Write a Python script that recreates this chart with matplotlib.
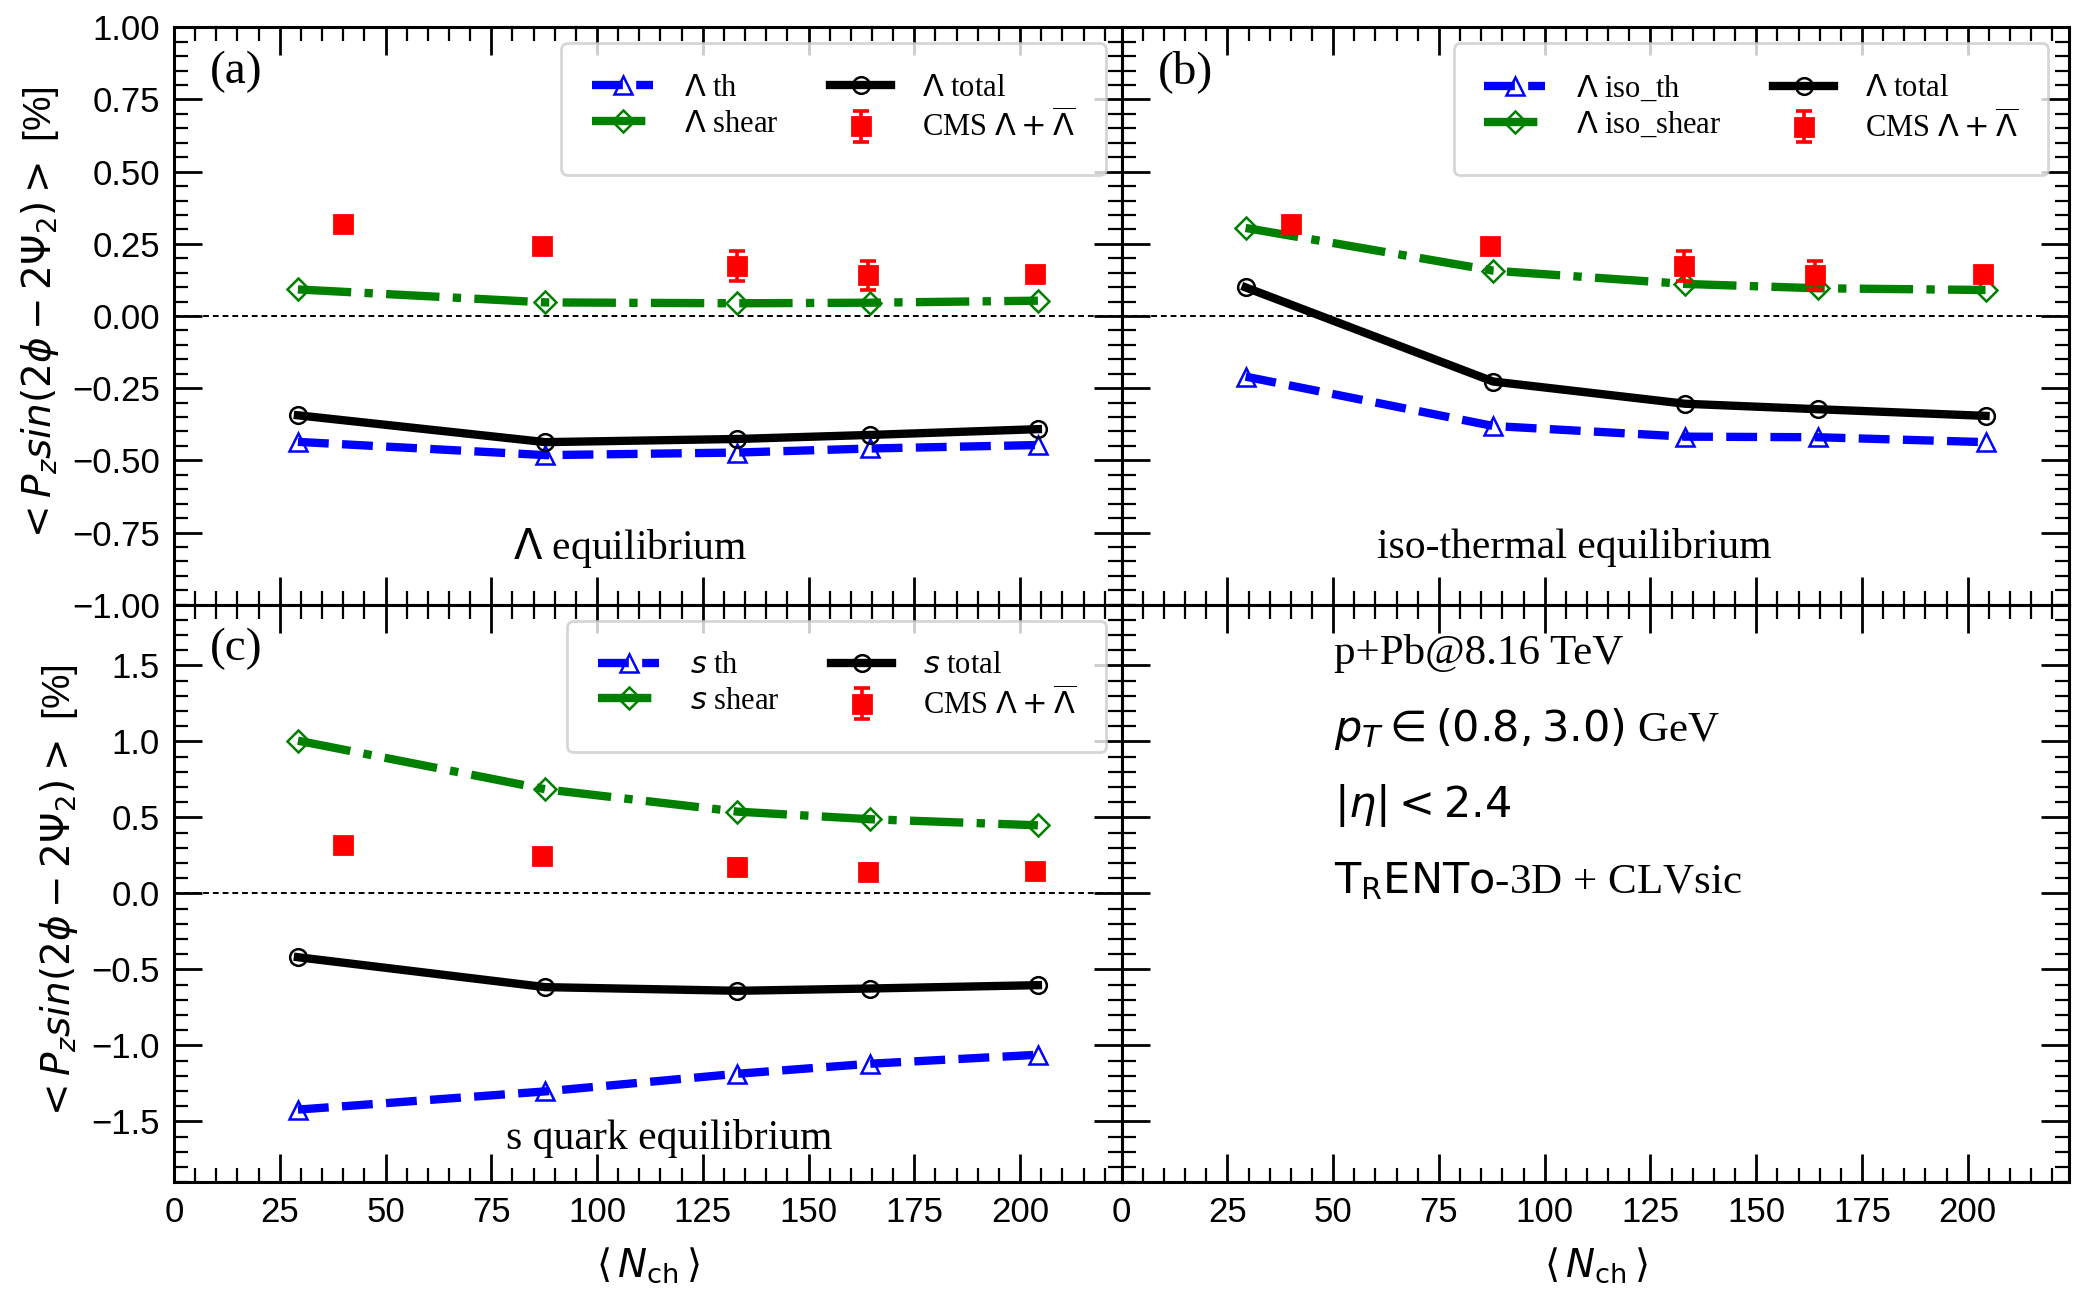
import numpy as np
import matplotlib.pyplot as plt
from matplotlib.ticker import MultipleLocator, AutoMinorLocator

plt.rcParams['font.family'] = ['Liberation Serif', 'DejaVu Serif']
plt.rcParams['mathtext.fontset'] = 'dejavusans'

# <N_ch> of the model points and of the CMS points
nch = [29.3, 87.8, 133.2, 164.6, 204.2]
cms_nch = [40.0, 87.0, 133.0, 164.0, 203.5]
cms_val = [0.318, 0.243, 0.173, 0.141, 0.145]
cms_err = [0.02, 0.015, 0.052, 0.051, 0.02]

# (a) Lambda equilibrium
lam_th = [-0.436, -0.482, -0.473, -0.459, -0.447]
lam_shear = [0.092, 0.047, 0.044, 0.046, 0.053]
lam_total = [-0.344, -0.437, -0.426, -0.412, -0.392]

# (b) iso-thermal equilibrium
iso_th = [-0.210, -0.381, -0.418, -0.420, -0.437]
iso_shear = [0.305, 0.157, 0.111, 0.096, 0.090]
iso_total = [0.099, -0.227, -0.304, -0.323, -0.346]

# (c) s quark equilibrium
s_th = [-1.423, -1.303, -1.187, -1.121, -1.062]
s_shear = [1.005, 0.685, 0.538, 0.488, 0.448]
s_total = [-0.420, -0.617, -0.641, -0.626, -0.604]

panels = [
    ('(a)', r'$\Lambda$ equilibrium',
     [r'$\Lambda$ th', r'$\Lambda$ shear', r'$\Lambda$ total'],
     lam_th, lam_shear, lam_total),
    ('(b)', 'iso-thermal equilibrium',
     [r'$\Lambda$ iso_th', r'$\Lambda$ iso_shear', r'$\Lambda$ total'],
     iso_th, iso_shear, iso_total),
    ('(c)', 's quark equilibrium',
     [r'$s$ th', r'$s$ shear', r'$s$ total'],
     s_th, s_shear, s_total),
]

fig, axs = plt.subplots(2, 2, figsize=(10.43, 6.495), dpi=200,
                        sharex=True)
fig.subplots_adjust(left=0.0834, right=0.992, top=0.979, bottom=0.090,
                    wspace=0, hspace=0)
ax_a, ax_b = axs[0]
ax_c, ax_d = axs[1]

sans = ['Liberation Sans', 'DejaVu Sans']
text_pos = [(0.481, 0.099), (0.478, 0.099), (0.523, 0.075)]
leg_anchor = [(0.983, 0.972), (0.978, 0.972), (0.984, 0.972)]

for ax, (tag, title, labels, th, shear, total), tp, la in zip(
        [ax_a, ax_b, ax_c], panels, text_pos, leg_anchor):
    ax.axhline(0, color='black', lw=0.7, ls=(0, (3, 2)), zorder=1)
    ax.plot(nch, th, color='blue', ls='--', lw=3, marker='^', ms=6.5,
            mfc='none', mec='blue', mew=0.9, label=labels[0])
    ax.plot(nch, shear, color='green', ls='-.', lw=3, marker='D', ms=5.5,
            mfc='none', mec='green', mew=0.9, label=labels[1])
    ax.plot(nch, total, color='black', ls='-', lw=3, marker='o', ms=6,
            mfc='none', mec='black', mew=0.9, label=labels[2])
    ax.errorbar(cms_nch, cms_val, yerr=cms_err, fmt='s', color='red',
                ms=6.5, capsize=3, elinewidth=1.3, capthick=1.3, zorder=5,
                label=r'CMS $\Lambda+\overline{\Lambda}$')
    ax.legend(ncol=2, loc='upper right', bbox_to_anchor=la,
              borderaxespad=0, fontsize=11, handlelength=2.0,
              handletextpad=1.0, columnspacing=1.7, borderpad=1.0,
              labelspacing=0.22)
    ax.text(0.038, 0.923, tag, transform=ax.transAxes, fontsize=17,
            va='center', ha='left')
    ax.text(tp[0], tp[1], title, transform=ax.transAxes, fontsize=15,
            va='center', ha='center')

# (d) info panel
info = ['p+Pb@8.16 TeV', r'$p_T \in (0.8, 3.0)$ GeV', r'$|\eta| < 2.4$',
        r'$\mathrm{T_RENTo}$-3D + CLVsic']
for i, s in enumerate(info):
    ax_d.text(0.224, 0.915 - 0.131 * i, s, transform=ax_d.transAxes,
              fontsize=15.5, va='center', ha='left')

ax_a.set_ylim(-1.0, 1.0)
ax_b.set_ylim(-1.0, 1.0)
ax_c.set_ylim(-1.9, 1.9)
ax_d.set_ylim(-1.9, 1.9)
ax_a.set_xlim(0, 224)

for ax in [ax_a, ax_b]:
    ax.yaxis.set_major_locator(MultipleLocator(0.25))
for ax in [ax_c, ax_d]:
    ax.yaxis.set_major_locator(MultipleLocator(0.5))

for ax in axs.flat:
    ax.xaxis.set_major_locator(MultipleLocator(25))
    ax.xaxis.set_minor_locator(AutoMinorLocator(5))
    ax.yaxis.set_minor_locator(AutoMinorLocator(5))
    ax.tick_params(which='both', direction='in', top=True, right=True,
                   labelsize=12.5, labelfontfamily=sans, pad=5)
    ax.tick_params(which='major', length=10, width=1.0)
    ax.tick_params(which='minor', length=5, width=0.8)
    for sp in ax.spines.values():
        sp.set_linewidth(1.1)

for ax in [ax_b, ax_d]:
    ax.tick_params(labelleft=False)
for ax in [ax_a, ax_b]:
    ax.tick_params(labelbottom=False)

ylab = r'$<P_z sin(2\phi-2\Psi_2)>$ [%]'
for ax in [ax_a, ax_c]:
    ax.set_ylabel(ylab, fontsize=14, family=sans, labelpad=4)
for ax in [ax_c, ax_d]:
    ax.set_xlabel(r'$\langle\,N_{\rm ch}\,\rangle$', fontsize=14,
                  family=sans, labelpad=6)

fig.savefig('out.png', dpi=200)
